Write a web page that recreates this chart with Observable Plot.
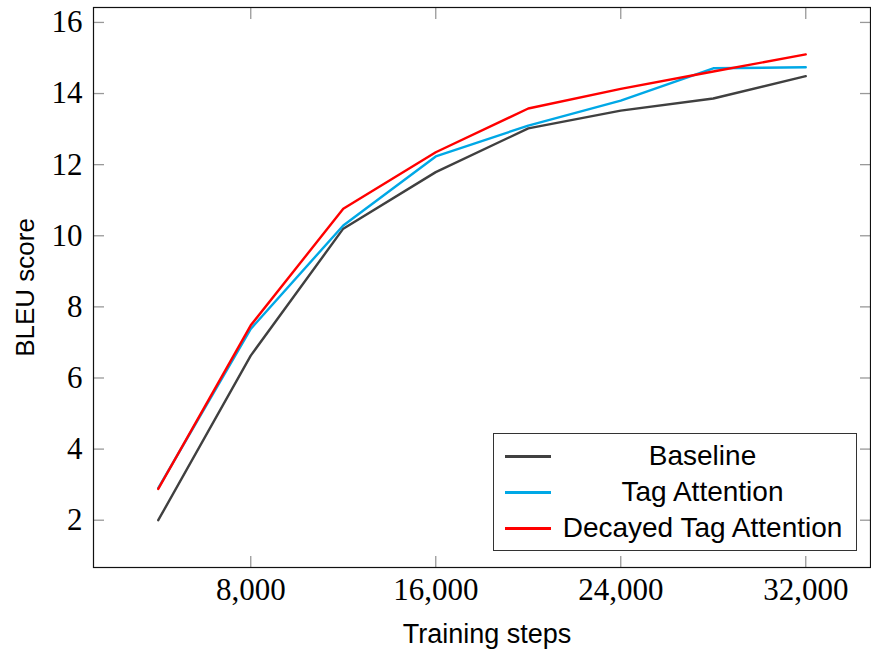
<!DOCTYPE html>
<html>
<head>
<meta charset="utf-8">
<script src="https://cdn.jsdelivr.net/npm/d3@7"></script>
<script src="https://cdn.jsdelivr.net/npm/@observablehq/plot@0.6"></script>
<style>
  body { margin: 0; background: #fff; }
  #wrap { position: relative; width: 871px; height: 653px; }
  #legend { position: absolute; left: 493px; top: 433px; width: 362px; height: 116px;
    border: 1.2px solid #333; background: #fff; font-family: "Liberation Sans", Arial, sans-serif; font-size: 28px; }
  .row { display: flex; align-items: center; height: 36px; margin-left: 11px; }
  .row:first-child { margin-top: 4px; }
  .swatch { width: 46px; height: 3px; flex: none; }
  .lab { flex: 1; text-align: center; margin-left: 2px; margin-right: 4px; white-space: nowrap; }
</style>
</head>
<body>
<div id="wrap"></div>
<script>
const steps = [4000, 8000, 12000, 16000, 20000, 24000, 28000, 32000];
const baseline = [2.0, 6.63, 10.2, 11.79, 13.02, 13.52, 13.86, 14.49];
const tagAttention = [2.9, 7.38, 10.29, 12.23, 13.1, 13.8, 14.71, 14.74];
const decayedTagAttention = [2.88, 7.48, 10.76, 12.35, 13.58, 14.13, 14.62, 15.1];
const seriesNames = ["Baseline", "Tag Attention", "Decayed Tag Attention"];
const seriesColors = ["#404040", "#00a8e6", "#ff0000"];
const xTicks = [8000, 16000, 24000, 32000];
const yTicks = [2, 4, 6, 8, 10, 12, 14, 16];

const seriesValues = [baseline, tagAttention, decayedTagAttention];
const data = [];
seriesNames.forEach((name, i) => {
  steps.forEach((s, j) => data.push({ series: name, step: s, bleu: seriesValues[i][j] }));
});

const serif = "'Liberation Serif', 'Times New Roman', serif";
const tickGray = "#999";

const plot = Plot.plot({
  width: 871,
  height: 653,
  marginLeft: 93,
  marginRight: 1,
  marginTop: 7,
  marginBottom: 86,
  style: { fontFamily: "'Liberation Sans', Arial, sans-serif", background: "#fff" },
  x: { domain: [1200, 34800], label: null },
  y: { domain: [0.67, 16.42], label: null },
  color: { domain: seriesNames, range: seriesColors },
  marks: [
    Plot.axisX(xTicks, { anchor: "bottom", tickSize: -11, stroke: tickGray, strokeWidth: 1.3, text: null }),
    Plot.axisX(xTicks, { anchor: "top", tickSize: -11, stroke: tickGray, strokeWidth: 1.3, text: null }),
    Plot.axisY(yTicks, { anchor: "left", tickSize: -11, stroke: tickGray, strokeWidth: 1.3, text: null }),
    Plot.axisY(yTicks, { anchor: "right", tickSize: -11, stroke: tickGray, strokeWidth: 1.3, text: null }),
    Plot.axisX(xTicks, { anchor: "bottom", tickSize: 0, tickPadding: 10, tickFormat: d3.format(","),
      fontFamily: serif, fontSize: 31, fill: "#000", label: null }),
    Plot.axisY(yTicks, { anchor: "left", tickSize: 0, tickPadding: 11, fontFamily: serif, fontSize: 31, fill: "#000", label: null }),
    Plot.line(data, { x: "step", y: "bleu", stroke: "series", strokeWidth: 2.4, strokeLinejoin: "miter" }),
    Plot.frame({ stroke: "#111", strokeWidth: 1.2 }),
    Plot.text(["Training steps"], { frameAnchor: "bottom", dy: 75, dx: 5, text: d => d, fontSize: 27, fill: "#000" }),
    Plot.text(["BLEU score"], { frameAnchor: "left", dx: -68, rotate: -90, textAnchor: "middle", text: d => d, fontSize: 26, fill: "#000" })
  ]
});
const wrap = document.getElementById("wrap");
wrap.appendChild(plot);

const legend = document.createElement("div");
legend.id = "legend";
seriesNames.forEach((name, i) => {
  const row = document.createElement("div");
  row.className = "row";
  row.innerHTML = `<div class="swatch" style="background:${seriesColors[i]}"></div><div class="lab">${name}</div>`;
  legend.appendChild(row);
});
wrap.appendChild(legend);
</script>
</body>
</html>
